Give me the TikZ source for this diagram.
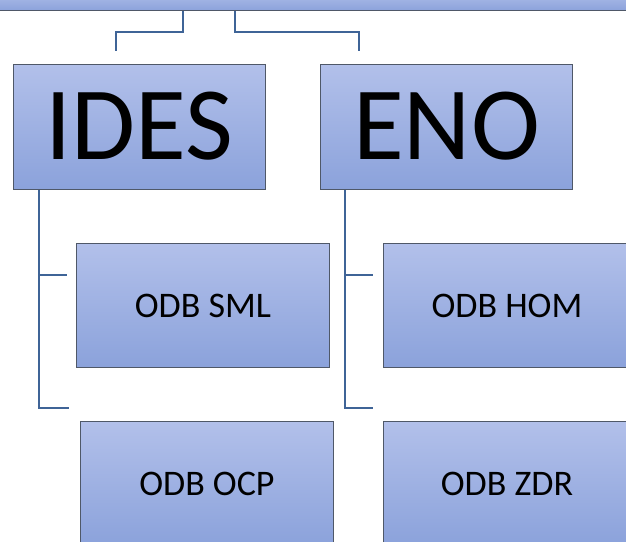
\documentclass[tikz,border=0pt]{standalone}
\usepackage{fontspec}
\setmainfont{Carlito}
\usetikzlibrary{calc}
\definecolor{boxtop}{HTML}{B2C0EA}
\definecolor{boxbot}{HTML}{8BA2DB}
\definecolor{boxline}{HTML}{4F5868}
\definecolor{connline}{HTML}{3F6497}
\tikzset{
  orgbox/.style={draw=boxline, line width=0.9pt, top color=boxtop, bottom color=boxbot,
    anchor=north west, inner sep=0pt, minimum width=253pt, minimum height=124pt},
  bigtxt/.style={font=\fontsize{104}{110}\selectfont},
  smalltxt/.style={font=\fontsize{36}{40}\selectfont},
  conn/.style={draw=connline, line width=1.2pt}
}
\begin{document}
\begin{tikzpicture}[x=1pt,y=-1pt]
\useasboundingbox (0,0) rectangle (626,541);
\clip (0,0) rectangle (626,541);
\fill[white] (0,0) rectangle (626,541);
% top bar
\node[draw=boxline, line width=0.9pt, top color=boxtop, bottom color=boxbot, anchor=north west,
  inner sep=0pt, minimum width=640pt, minimum height=20pt] (top) at (-7,-10) {};
% level 1
\node[orgbox, minimum width=252pt, minimum height=125pt, bigtxt] (ides) at (13,64) {\raisebox{3pt}{IDES}};
\node[orgbox, minimum width=252pt, minimum height=125pt, bigtxt] (eno) at (320,64) {\raisebox{3pt}{ENO}};
% level 2
\node[orgbox, smalltxt] (sml) at (76,243) {ODB SML};
\node[orgbox, smalltxt] (ocp) at (80,421) {ODB OCP};
\node[orgbox, smalltxt] (hom) at (383,243) {\hspace*{-3pt}ODB HOM\hspace*{3pt}};
\node[orgbox, smalltxt] (zdr) at (383,421) {\hspace*{-3pt}ODB ZDR\hspace*{3pt}};
% connectors from top
\draw[conn] ($(top.south west)+(190,0)$) |- ($(ides.north west)+(103,-32)$) -- ($(ides.north west)+(103,-13)$);
\draw[conn] ($(top.south west)+(242,0)$) |- ($(eno.north west)+(39,-32)$) -- ($(eno.north west)+(39,-13)$);
% connectors to children
\draw[conn] ($(ides.south west)+(26,0)$) |- ($(sml.north west)+(-9,32)$);
\draw[conn] ($(ides.south west)+(26,0)$) |- ($(ocp.north west)+(-11,-13)$);
\draw[conn] ($(eno.south west)+(25,0)$) |- ($(hom.north west)+(-10,32)$);
\draw[conn] ($(eno.south west)+(25,0)$) |- ($(zdr.north west)+(-10,-13)$);
\end{tikzpicture}
\end{document}
